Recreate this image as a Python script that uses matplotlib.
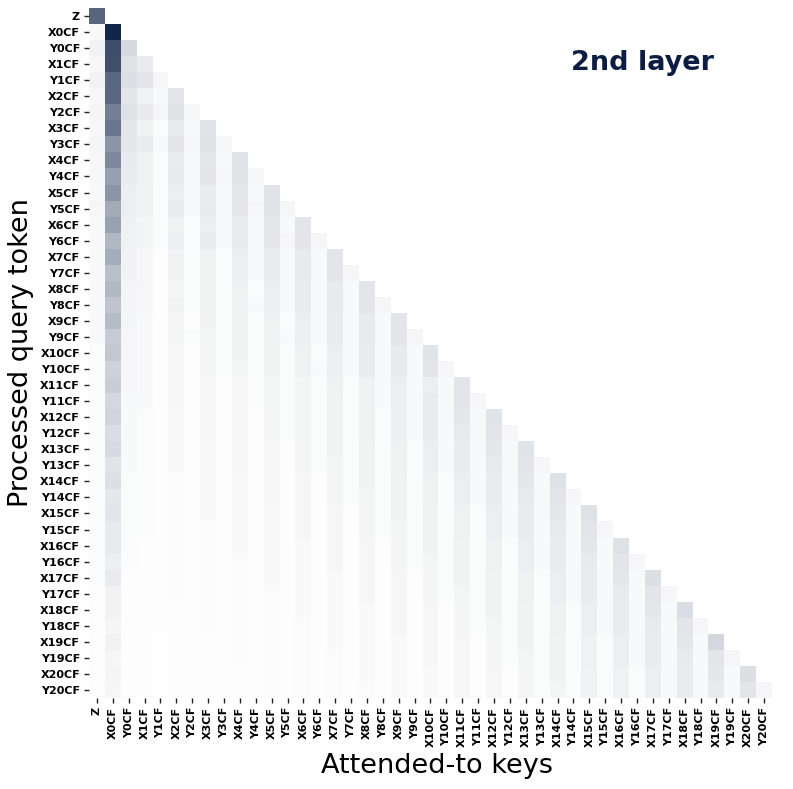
import numpy as np
import matplotlib
matplotlib.use("Agg")
import matplotlib.pyplot as plt
from matplotlib.colors import LinearSegmentedColormap

tokens = ["Z"] + [f"{p}{i}CF" for i in range(21) for p in ("X", "Y")]

# attention weights (percent of max), lower-triangular rows: query row r has r+1 keys
attention = [
    [71],
    [3, 100],
    [6, 82, 17],
    [4, 81, 14, 9],
    [6, 70, 15, 12, 4],
    [4, 70, 12, 7, 3, 12],
    [5, 59, 14, 10, 4, 14, 4],
    [4, 63, 11, 7, 2, 10, 3, 13],
    [5, 49, 11, 9, 3, 12, 4, 14, 4],
    [4, 55, 10, 7, 2, 9, 3, 11, 3, 13],
    [4, 44, 9, 7, 2, 10, 3, 12, 4, 13, 4],
    [3, 49, 8, 6, 2, 8, 3, 9, 3, 11, 3, 13],
    [4, 39, 8, 6, 2, 9, 3, 10, 3, 11, 4, 13, 4],
    [3, 43, 7, 5, 2, 7, 2, 8, 3, 9, 3, 11, 3, 12],
    [3, 33, 7, 5, 2, 8, 2, 9, 3, 10, 3, 11, 4, 12, 4],
    [3, 38, 6, 4, 1, 6, 2, 7, 2, 8, 3, 9, 3, 10, 3, 12],
    [3, 29, 6, 4, 1, 6, 2, 7, 2, 8, 3, 9, 3, 10, 3, 12, 4],
    [3, 33, 5, 4, 1, 5, 2, 6, 2, 7, 2, 8, 3, 9, 3, 10, 3, 12],
    [3, 27, 5, 4, 1, 6, 2, 6, 2, 7, 3, 8, 3, 9, 3, 10, 3, 12, 4],
    [3, 31, 5, 3, 1, 5, 1, 6, 2, 6, 2, 7, 2, 8, 3, 9, 3, 10, 3, 12],
    [3, 24, 4, 3, 1, 5, 2, 5, 2, 6, 2, 7, 3, 8, 3, 9, 3, 10, 3, 12, 4],
    [2, 26, 4, 3, 1, 4, 1, 5, 2, 6, 2, 6, 2, 7, 2, 8, 3, 9, 3, 10, 3, 13],
    [2, 21, 4, 3, 1, 4, 1, 5, 2, 5, 2, 6, 2, 7, 3, 8, 3, 9, 3, 10, 3, 12, 4],
    [2, 23, 4, 3, 1, 4, 1, 4, 1, 4, 2, 5, 2, 5, 2, 7, 2, 7, 3, 8, 3, 8, 3, 12],
    [2, 18, 3, 3, 1, 4, 1, 4, 1, 4, 2, 5, 2, 5, 2, 6, 2, 7, 3, 8, 3, 9, 3, 12, 4],
    [2, 20, 3, 2, 1, 3, 1, 4, 1, 4, 1, 5, 2, 5, 2, 6, 2, 7, 2, 8, 3, 9, 3, 11, 3, 13],
    [2, 16, 3, 2, 1, 3, 1, 4, 1, 4, 1, 5, 2, 5, 2, 6, 2, 7, 2, 8, 3, 9, 3, 10, 3, 12, 4],
    [2, 17, 3, 2, 1, 3, 1, 3, 1, 4, 1, 4, 1, 5, 2, 6, 2, 6, 2, 7, 2, 8, 3, 9, 3, 11, 3, 13],
    [2, 13, 3, 2, 1, 3, 1, 3, 1, 4, 1, 4, 1, 5, 2, 5, 2, 6, 2, 7, 2, 8, 3, 9, 3, 10, 3, 12, 4],
    [2, 15, 2, 2, 1, 2, 1, 3, 1, 3, 1, 4, 1, 4, 1, 5, 2, 6, 2, 6, 2, 7, 2, 8, 3, 9, 3, 11, 3, 14],
    [2, 11, 2, 2, 1, 2, 1, 3, 1, 3, 1, 4, 1, 4, 1, 5, 2, 5, 2, 6, 2, 7, 2, 8, 3, 9, 3, 10, 3, 12, 4],
    [2, 12, 2, 2, 1, 2, 1, 3, 1, 3, 1, 3, 1, 4, 1, 4, 1, 5, 2, 6, 2, 6, 2, 7, 2, 8, 3, 9, 3, 11, 3, 14],
    [2, 10, 2, 2, 1, 2, 1, 2, 1, 3, 1, 3, 1, 4, 1, 4, 1, 5, 2, 5, 2, 6, 2, 7, 2, 8, 3, 9, 3, 10, 3, 12, 4],
    [2, 10, 2, 1, 1, 2, 1, 2, 1, 3, 1, 3, 1, 3, 1, 4, 1, 4, 1, 5, 2, 6, 2, 6, 2, 7, 2, 8, 3, 9, 3, 11, 3, 14],
    [2, 8, 2, 1, 1, 2, 1, 2, 1, 2, 1, 3, 1, 3, 1, 4, 1, 4, 1, 5, 2, 5, 2, 6, 2, 7, 2, 8, 3, 9, 3, 10, 3, 12, 4],
    [2, 9, 1, 1, 1, 2, 1, 2, 1, 2, 1, 3, 1, 3, 1, 3, 1, 4, 1, 4, 1, 5, 2, 6, 2, 6, 2, 7, 2, 8, 3, 9, 3, 11, 3, 15],
    [1, 7, 1, 1, 1, 2, 1, 2, 1, 2, 1, 2, 1, 3, 1, 3, 1, 4, 1, 4, 1, 5, 2, 5, 2, 6, 2, 7, 2, 8, 3, 9, 3, 10, 3, 12, 4],
    [1, 7, 1, 1, 1, 1, 1, 2, 1, 2, 1, 2, 1, 3, 1, 3, 1, 3, 1, 4, 1, 4, 1, 5, 2, 6, 2, 6, 2, 7, 2, 8, 3, 9, 3, 11, 3, 16],
    [1, 5, 1, 1, 1, 1, 1, 2, 1, 2, 1, 2, 1, 2, 1, 3, 1, 3, 1, 4, 1, 4, 1, 5, 2, 5, 2, 6, 2, 7, 2, 8, 3, 9, 3, 10, 3, 12, 4],
    [1, 6, 1, 1, 0, 1, 1, 1, 1, 2, 1, 2, 1, 2, 1, 3, 1, 3, 1, 3, 1, 4, 1, 4, 1, 5, 2, 6, 2, 6, 2, 7, 2, 8, 3, 9, 3, 11, 3, 18],
    [1, 4, 1, 1, 0, 1, 1, 1, 1, 2, 1, 2, 1, 2, 1, 2, 1, 3, 1, 3, 1, 4, 1, 4, 1, 5, 2, 5, 2, 6, 2, 7, 2, 8, 3, 9, 3, 10, 3, 12, 4],
    [1, 5, 1, 1, 0, 1, 1, 1, 1, 1, 1, 2, 1, 2, 1, 2, 1, 3, 1, 3, 1, 3, 1, 4, 1, 4, 1, 5, 2, 6, 2, 6, 2, 7, 2, 8, 3, 9, 3, 11, 3, 15],
    [1, 4, 1, 1, 0, 1, 1, 1, 1, 1, 1, 2, 1, 2, 1, 2, 1, 2, 1, 3, 1, 3, 1, 4, 1, 4, 1, 5, 2, 5, 2, 6, 2, 7, 2, 8, 3, 9, 3, 10, 3, 12, 4],
]

title_text = "2nd layer"
xlabel_text = "Attended-to keys"
ylabel_text = "Processed query token"

n = len(tokens)
mat = np.full((n, n), np.nan)
for r, row in enumerate(attention):
    mat[r, :len(row)] = row
data = np.ma.masked_invalid(mat)

cmap = LinearSegmentedColormap.from_list("navy", ["#ffffff", "#12264a"])

fig = plt.figure(figsize=(7.93, 7.89), dpi=100)
ax = fig.add_axes([89 / 793, 1 - 698 / 789, (772 - 89) / 793, (698 - 8) / 789])
ax.pcolormesh(np.arange(n + 1), np.arange(n + 1), data, cmap=cmap,
              vmin=0, vmax=100, shading="flat", edgecolors="none")
ax.set_xlim(0, n)
ax.set_ylim(n, 0)
for s in ax.spines.values():
    s.set_visible(False)

ax.set_xticks(np.arange(n) + 0.5)
ax.set_yticks(np.arange(n) + 0.5)
ax.set_xticklabels(tokens, rotation=90, fontsize=8, fontweight="bold")
ax.set_yticklabels(tokens, rotation=0, fontsize=8, fontweight="bold")
ax.tick_params(axis="both", length=3.5, width=1.0, color="#222222", pad=3)

ax.set_xlabel(xlabel_text, fontsize=19.5)
ax.set_ylabel(ylabel_text, fontsize=19.5)
ax.xaxis.set_label_coords(0.509, -0.079)
ax.yaxis.set_label_coords(-0.080, 0.5)

ax.text(0.81, 0.921, title_text, transform=ax.transAxes, fontsize=19.5,
        fontweight="bold", color="#0c1c42", ha="center", va="center")

fig.savefig("out.png", dpi=100)
